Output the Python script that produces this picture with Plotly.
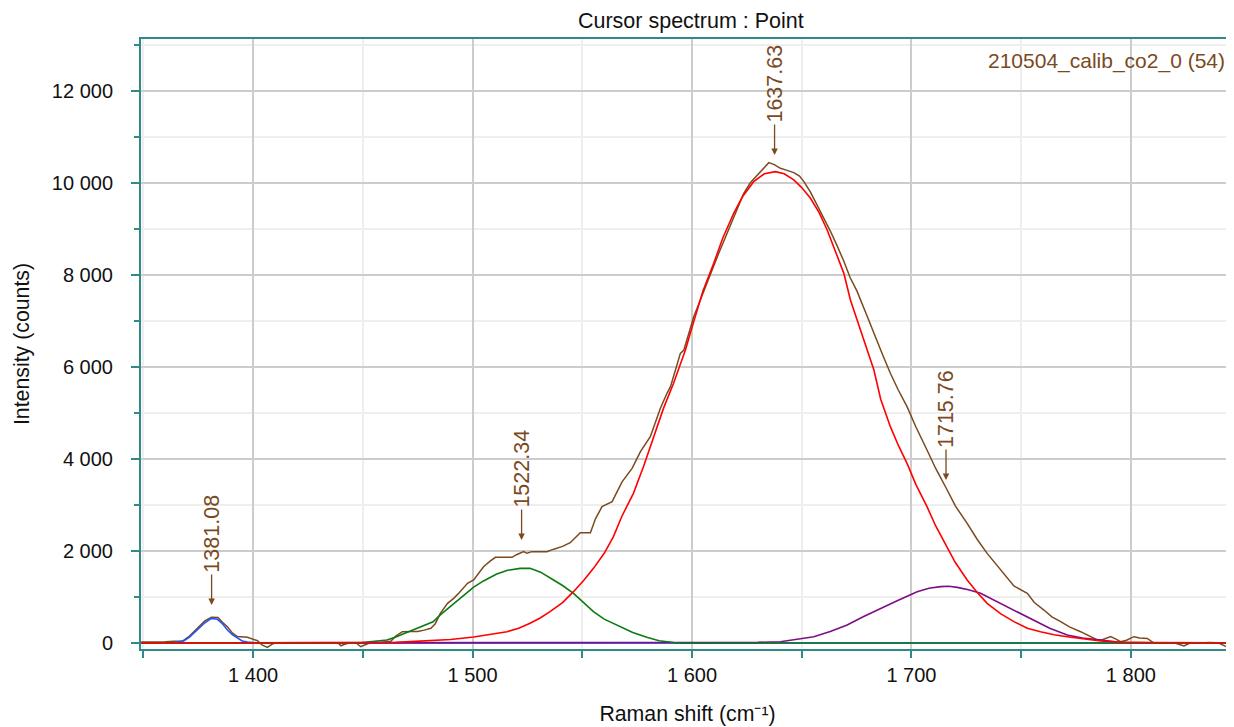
import plotly.graph_objects as go

# measured spectrum (brown)
spec_x = [1349, 1355, 1360, 1364, 1368, 1371, 1374.6, 1378, 1381, 1384, 1386, 1388.3, 1390.5,
          1392.8, 1397.4, 1400, 1402, 1404, 1406.5, 1408.5, 1410, 1415, 1420, 1425, 1430, 1435,
          1439, 1440, 1442, 1444, 1447, 1449, 1451, 1453, 1458, 1462.7, 1465, 1468, 1472, 1475,
          1478, 1481, 1483, 1485.3, 1488.6, 1491.4, 1494, 1497.7, 1500.5, 1503, 1505, 1508,
          1510.4, 1514, 1518, 1520, 1523.3, 1524.8, 1527, 1530, 1533.9, 1537, 1541, 1544.5,
          1547, 1549.1, 1553.7, 1556, 1559, 1563.6, 1566, 1568.2, 1572.7, 1576.5, 1581, 1585.6,
          1588.6, 1590.2, 1594.7, 1596.3, 1600.8, 1604.5, 1608.4, 1612, 1616, 1620, 1623.6,
          1626.5, 1629.7, 1632, 1635, 1637.5, 1640.3, 1643, 1646.4, 1649, 1651, 1654, 1657,
          1660, 1663.1, 1666, 1669.2, 1672, 1675.2, 1679, 1684.4, 1687, 1690.4, 1694, 1698,
          1702, 1707.1, 1711, 1716.3, 1720, 1725.4, 1730, 1734.5, 1740.6, 1746.7, 1752.8, 1756,
          1760.4, 1764, 1768, 1772, 1777.1, 1781, 1784.7, 1787, 1790.8, 1793, 1795.3, 1798,
          1801.4, 1804, 1807.5, 1810.5, 1815, 1820, 1824.2, 1827, 1831.8, 1836, 1840, 1844, 1847]
spec_y = [20, 20, 25, 40, 45, 150, 320, 480, 560, 555, 450, 355, 220,
          140, 123, 90, 50, -40, -94, -30, 0, 5, 0, 10, 0, 5,
          -10, -60, -20, 0, 0, -80, -40, 0, 10, 40, 150, 246, 250, 250,
          280, 319, 420, 645, 862, 971, 1100, 1297, 1370, 1530, 1659, 1780,
          1862, 1862, 1862, 1920, 1986, 1950, 1986, 1986, 1986, 2040, 2100, 2181,
          2290, 2399, 2399, 2700, 2964, 3073, 3300, 3508, 3797, 4160, 4486, 5102,
          5428, 5573, 6297, 6370, 7094, 7550, 8036, 8450, 8906, 9350, 9776,
          10000, 10174, 10300, 10442, 10400, 10319, 10280, 10225, 10150, 10030, 9800, 9520,
          9250, 8950, 8650, 8300, 7950, 7650, 7200, 6587, 6250, 5863, 5500, 5138,
          4700, 4196, 3800, 3326, 2980, 2601, 2250, 1949, 1587, 1239, 1080, 880,
          717, 570, 464, 350, 246, 150, 65, 70, 138, 90, 28, 60,
          138, 110, 100, 0, 5, 0, -65, 0, 0, 10, 0, -90, 0]

# fitted bands
blue_x = [1349, 1360, 1363, 1366, 1368.5, 1371, 1374.6, 1378, 1381, 1383.7, 1386, 1388.3,
          1390.5, 1392.8, 1395, 1397.4, 1400, 1403, 1847]
blue_y = [0, 0, 5, 25, 50, 130, 283, 440, 536, 515, 420, 283, 180, 101, 45, 20, 5, 0, 0]

green_x = [1349, 1448, 1452, 1456, 1461, 1465, 1468.6, 1472, 1476, 1482, 1485.3, 1490, 1495,
           1500.5, 1505, 1511, 1516, 1521.7, 1526.2, 1531, 1536.9, 1541, 1546, 1550, 1555.1,
           1560, 1567.3, 1573, 1579.4, 1585, 1591.6, 1596, 1847]
green_y = [0, 0, 20, 40, 65, 130, 200, 270, 350, 463, 610, 800, 1000,
           1215, 1350, 1500, 1580, 1623, 1623, 1540, 1370, 1250, 1080, 900, 681,
           520, 355, 230, 123, 50, 10, 0, 0]

red_x = [1349, 1460, 1465, 1471.6, 1480, 1485, 1490, 1500.5, 1508, 1515.7, 1521, 1526.2, 1531,
         1535.3, 1541, 1546, 1551, 1555.1, 1560, 1564.2, 1568, 1573.3, 1578, 1582.5, 1587,
         1591.6, 1597, 1600.8, 1605, 1609.9, 1614, 1619, 1623, 1628.1, 1633, 1638, 1642,
         1646.4, 1650, 1654, 1658, 1661.6, 1665, 1669.2, 1672.2, 1676.7, 1682.9, 1686, 1690.4,
         1694, 1698, 1702, 1707.1, 1711, 1716.3, 1720, 1725.4, 1730, 1734.5, 1740.6, 1746.7,
         1749.7, 1752.8, 1758.8, 1765, 1771, 1778, 1786.2, 1795, 1801.4, 1810, 1847]
red_y = [0, 0, 15, 30, 45, 55, 75, 130, 180, 246, 320, 428, 550,
         681, 880, 1116, 1380, 1623, 1950, 2312, 2750, 3254, 3850, 4486, 5100,
         5645, 6370, 6986, 7650, 8254, 8800, 9341, 9700, 10029, 10200, 10247, 10200,
         10066, 9900, 9667, 9350, 8979, 8550, 8036, 7457, 6805, 5935, 5300, 4703,
         4300, 3906, 3450, 2964, 2550, 2094, 1750, 1370, 1100, 862, 640, 464,
         391, 320, 246, 180, 138, 90, 43, 20, 15, 10, 5]

purple_x = [1349, 1600, 1610, 1620, 1630, 1640.3, 1648, 1655.5, 1663, 1670.7, 1678, 1685.9,
            1694, 1702.6, 1708, 1713.3, 1717, 1720.9, 1726, 1731.5, 1740.6, 1746.7, 1755.8,
            1763, 1771, 1778, 1786.2, 1793.8, 1800, 1847]
purple_y = [0, 0, 5, 10, 15, 28, 80, 138, 250, 391, 570, 754,
            930, 1116, 1190, 1225, 1235, 1210, 1160, 1080, 862, 700, 480,
            320, 174, 110, 65, 20, 0, 0]

peak_pos = [1381.08, 1522.34, 1637.63, 1715.76]
peak_tip = [826, 2239, 10609, 3544]
peak_txt = ['1381.08', '1522.34', '1637.63', '1715.76']

BROWN = '#7a4a1f'
TEAL = '#2f8a88'
FONT = 'Liberation Sans, Arial, sans-serif'

fig = go.Figure()
fig.add_trace(go.Scatter(x=spec_x, y=spec_y, mode='lines', line=dict(color=BROWN, width=1.5)))
fig.add_trace(go.Scatter(x=blue_x, y=blue_y, mode='lines', line=dict(color='#1f55ff', width=1.6)))
fig.add_trace(go.Scatter(x=purple_x, y=purple_y, mode='lines', line=dict(color='#7d0f84', width=1.6)))
fig.add_trace(go.Scatter(x=green_x, y=green_y, mode='lines', line=dict(color='#0b7a10', width=1.6)))
fig.add_trace(go.Scatter(x=red_x, y=red_y, mode='lines', line=dict(color='#ff0000', width=1.6)))

for px_, py_, t in zip(peak_pos, peak_tip, peak_txt):
    fig.add_annotation(x=px_, y=py_, text=t, textangle=-90, showarrow=True,
                       arrowhead=2, arrowsize=1, arrowwidth=1.3, arrowcolor=BROWN,
                       ax=0, ay=-71, font=dict(color=BROWN, size=21.5, family=FONT))

fig.add_annotation(x=1, y=1, xref='paper', yref='paper', xanchor='right', yanchor='top',
                   xshift=-7, yshift=-8, showarrow=False, text='210504_calib_co2_0 (54)',
                   font=dict(color=BROWN, size=21, family=FONT))

fig.update_layout(
    width=1226, height=719,
    margin=dict(l=133, r=0, t=31, b=78),
    paper_bgcolor='white', plot_bgcolor='white',
    showlegend=False,
    separators='. ',
    font=dict(family=FONT, size=20, color='#111111'),
    title=dict(text='Cursor spectrum : Point', x=0.557, xanchor='center', y=0.983, yanchor='middle',
               font=dict(size=21.5, family=FONT, color='#111111')),
)
fig.update_xaxes(
    range=[1348.9, 1847], tickvals=[1400, 1500, 1600, 1700, 1800], tickformat=',d',
    showline=True, linecolor=TEAL, linewidth=2, mirror=True,
    ticks='outside', ticklen=7, tickcolor=TEAL, tickwidth=1.5,
    showgrid=True, gridcolor='#cccccc', gridwidth=1.5, zeroline=False,
    minor=dict(dtick=50, tick0=1350, ticks='outside', ticklen=7, tickcolor=TEAL, tickwidth=1.5,
               showgrid=True, gridcolor='#eeeeee', gridwidth=1.5),
    title=dict(text='Raman shift (cm⁻¹)', standoff=21, font=dict(size=21.3, family=FONT)),
)
fig.update_yaxes(
    range=[-130, 13130], dtick=2000, tickformat=',d', ticklabelstandoff=14,
    showline=True, linecolor=TEAL, linewidth=2,
    ticks='outside', ticklen=8, tickcolor=TEAL, tickwidth=1.5,
    showgrid=True, gridcolor='#cccccc', gridwidth=1.5, zeroline=False,
    minor=dict(dtick=1000, ticks='outside', ticklen=5, tickcolor=TEAL, tickwidth=1.5,
               showgrid=True, gridcolor='#eeeeee', gridwidth=1.5),
    title=dict(text='Intensity (counts)', standoff=16, font=dict(size=21.3, family=FONT)),
)

fig.write_html("out.html")
